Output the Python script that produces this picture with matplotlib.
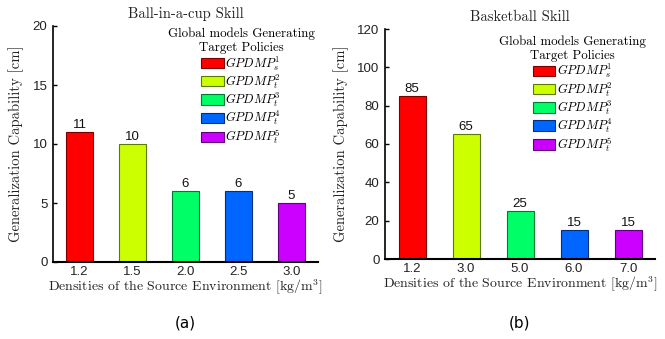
import matplotlib
matplotlib.use("Agg")
import matplotlib.pyplot as plt
from matplotlib.patches import Patch

plt.rcParams['mathtext.fontset'] = 'cm'

# Data
cats_a = ["1.2", "1.5", "2.0", "2.5", "3.0"]
vals_a = [11, 10, 6, 6, 5]
cats_b = ["1.2", "3.0", "5.0", "6.0", "7.0"]
vals_b = [85, 65, 25, 15, 15]
titles = ["Ball-in-a-cup Skill", "Basketball Skill"]
legend_labels = [r"$GPDMP_s^1$", r"$GPDMP_t^2$", r"$GPDMP_t^3$",
                 r"$GPDMP_t^4$", r"$GPDMP_t^5$"]
colors = ["#ff0000", "#ccff00", "#00ff66", "#0066ff", "#cc00ff"]
edges = ["#7a0000", "#5f7a00", "#007a30", "#00307a", "#5f007a"]

W, H = 665, 339
fig = plt.figure(figsize=(W / 100, H / 100), dpi=100)

serif = 'cmr10'
sans = 'Liberation Sans'

def add_axes(px0, py0, px1, py1):
    return fig.add_axes([px0 / W, 1 - py1 / H, (px1 - px0) / W, (py1 - py0) / H])

specs = [
    (add_axes(53, 26, 318, 262), cats_a, vals_a, 20, 5, titles[0], "(a)", 185, (1.02, 1.03)),
    (add_axes(385, 29, 655, 259), cats_b, vals_b, 120, 20, titles[1], "(b)", 520, (1.0, 1.01)),
]

for ax, cats, vals, ymax, step, title, tag, xc, anchor in specs:
    pos = list(range(len(cats)))
    ax.bar(pos, vals, width=0.5, color=colors, edgecolor=edges, linewidth=0.8)
    for p, v in zip(pos, vals):
        ax.text(p, v + ymax * 0.006, str(v), ha='center', va='bottom',
                fontsize=9.5, family=sans, color='#111111')
    ax.set_xlim(-0.5, len(cats) - 0.5)
    ax.set_ylim(0, ymax)
    ax.set_yticks(range(0, ymax + 1, step))
    ax.set_xticks(pos)
    ax.set_xticklabels(cats)
    for lab in ax.get_xticklabels() + ax.get_yticklabels():
        lab.set_family(sans)
        lab.set_fontsize(9.5)
        lab.set_color('#222222')
    ax.tick_params(axis='y', direction='in', length=3, width=1, pad=4)
    ax.tick_params(axis='x', length=0, pad=3)
    ax.spines['top'].set_visible(False)
    ax.spines['right'].set_visible(False)
    ax.spines['left'].set_linewidth(1.2)
    ax.spines['bottom'].set_linewidth(1.5)
    ax.set_title(title, family=serif, fontsize=10.5, pad=6, color='#222222')
    ax.set_xlabel(r"Densities of the Source Environment [kg/m$^3$]", family=serif,
                  fontsize=10, labelpad=0, color='#222222')
    ax.set_ylabel("Generalization Capability [cm]", family=serif, fontsize=10.5,
                  color='#222222', labelpad=6)
    handles = [Patch(facecolor=c, edgecolor=e, linewidth=0.8) for c, e in zip(colors, edges)]
    leg = ax.legend(handles, legend_labels, title="Global models Generating\nTarget Policies",
                    loc='upper right', bbox_to_anchor=anchor, frameon=False,
                    fontsize=9, handlelength=1.8, handleheight=0.9, handletextpad=0.1,
                    labelspacing=0.0, borderpad=0.2)
    leg.get_title().set_family(serif)
    leg.get_title().set_fontsize(9.3)
    leg.get_title().set_multialignment('center')
    leg._legend_box.align = 'center'
    fig.text(xc / W, 1 - 323 / H, tag, ha='center', va='center', family='DejaVu Sans',
             fontsize=11)

fig.savefig("out.png", dpi=100)
